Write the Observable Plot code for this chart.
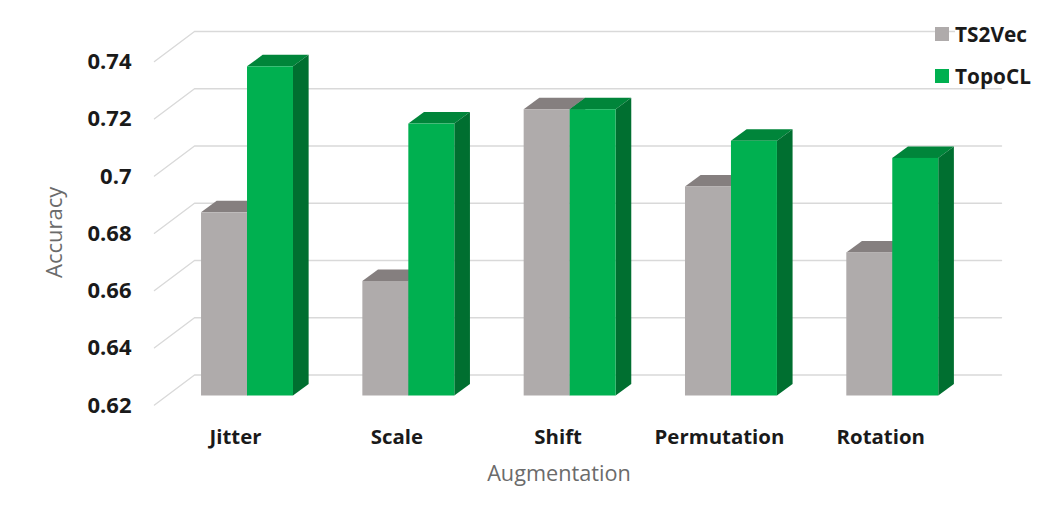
<!DOCTYPE html>
<html>
<head>
<meta charset="utf-8">
<script src="https://cdn.jsdelivr.net/npm/d3@7"></script>
<script src="https://cdn.jsdelivr.net/npm/@observablehq/plot@0.6"></script>
<style>
html,body{margin:0;padding:0;background:#fff}
#wrap{position:relative;width:1051px;height:517px;overflow:hidden}
#legend{position:absolute;left:935px;top:0;width:116px;height:100px;font:700 20.8px "Open Sans",sans-serif;color:#1a1a1a}
#legend .sw{position:absolute;left:0;width:14px;height:14px}
#legend .tx{position:absolute;left:20px;line-height:24px;background:#fff;padding-right:4px}
</style>
</head>
<body>
<div id="wrap"><div id="chart"></div><div id="legend"></div></div>
<script>
const categories = ["Jitter", "Scale", "Shift", "Permutation", "Rotation"];
const ts2vec = [0.684, 0.66, 0.72, 0.693, 0.67];
const topocl = [0.735, 0.715, 0.72, 0.709, 0.703];
const yTicks = [0.62, 0.64, 0.66, 0.68, 0.7, 0.72, 0.74];
const seriesNames = ["TS2Vec", "TopoCL"];

const colors = {
  TS2Vec: {front: "#AFABAB", top: "#857F7F", side: "#6F6B6B"},
  TopoCL: {front: "#00B050", top: "#00853A", side: "#006F30"}
};
const gridColor = "#D9D9D9";

// 3-D projection expressed in scale units
const base = 0.62;
const barW = 0.285;        // bar width in category units
const depthX = 0.097, depthY = 0.0040;   // bar depth
const wallLeft = -0.3286, floorLeft = -0.5766, wallRight = 4.674;
const wallDY = 0.00734, floorDY = -0.00314;

const grid = yTicks.flatMap(v => [
  {tick: v, x: floorLeft, y: v + floorDY},
  {tick: v, x: wallLeft, y: v + wallDY},
  {tick: v, x: wallRight, y: v + wallDY}
]);

function barMarks(name, values, x0off) {
  const c = colors[name];
  const rows = values.map((v, i) => ({i, v, x0: i + x0off, x1: i + x0off + barW}));
  const top = rows.flatMap(r => [
    {id: r.i, x: r.x0, y1: r.v, y2: r.v},
    {id: r.i, x: r.x0 + depthX, y1: r.v, y2: r.v + depthY},
    {id: r.i, x: r.x1, y1: r.v, y2: r.v + depthY},
    {id: r.i, x: r.x1 + depthX, y1: r.v + depthY, y2: r.v + depthY}
  ]);
  const side = rows.flatMap(r => [
    {id: r.i, x: r.x1, y1: base, y2: r.v},
    {id: r.i, x: r.x1 + depthX, y1: base + depthY, y2: r.v + depthY}
  ]);
  return [
    Plot.area(top, {x1: "x", y1: "y1", y2: "y2", z: "id", fill: c.top}),
    Plot.area(side, {x1: "x", y1: "y1", y2: "y2", z: "id", fill: c.side}),
    Plot.rect(rows, {x1: "x0", x2: "x1", y1: base, y2: "v", fill: c.front})
  ];
}

const font = '"Open Sans", sans-serif';

const chart = Plot.plot({
  width: 1051,
  height: 517,
  marginLeft: 154,
  marginRight: 50,
  marginTop: 52,
  marginBottom: 121.5,
  style: {background: "#fff", fontFamily: font, overflow: "visible"},
  x: {domain: [floorLeft, wallRight], axis: null},
  y: {domain: [0.62, 0.74], axis: null},
  marks: [
    Plot.line(grid, {x: "x", y: "y", z: "tick", stroke: gridColor, strokeWidth: 1.4}),
    ...barMarks("TS2Vec", ts2vec, -barW),
    ...barMarks("TopoCL", topocl, 0),
    Plot.axisY({
      anchor: "left", ticks: yTicks, tickSize: 0, tickPadding: 23, dy: 9.5,
      tickFormat: d => String(d), label: null,
      fontSize: 22, fontWeight: 700, fill: "#1a1a1a"
    }),
    Plot.axisX({
      anchor: "bottom", ticks: categories.map((_, i) => i), tickSize: 0, tickPadding: 0, dx: -12, dy: 34,
      tickFormat: i => categories[i], label: null,
      fontSize: 20.4, fontWeight: 700, fill: "#1a1a1a"
    }),
    Plot.text(["Accuracy"], {
      frameAnchor: "left", textAnchor: "middle", dx: -100, dy: 8, rotate: -90,
      fontSize: 22, fill: "#6b6b6b"
    }),
    Plot.text(["Augmentation"], {
      frameAnchor: "bottom", dx: -19, dy: 85,
      fontSize: 21.7, fill: "#6b6b6b"
    })
  ]
});
document.getElementById("chart").appendChild(chart);

const legend = document.getElementById("legend");
seriesNames.forEach((n, k) => {
  const top = k === 0 ? 27 : 68.5;
  const sw = document.createElement("div");
  sw.className = "sw"; sw.style.top = top + "px"; sw.style.background = colors[n].front;
  const tx = document.createElement("div");
  tx.className = "tx"; tx.style.top = (top - 5) + "px"; tx.textContent = n;
  legend.append(sw, tx);
});
</script>
</body>
</html>
